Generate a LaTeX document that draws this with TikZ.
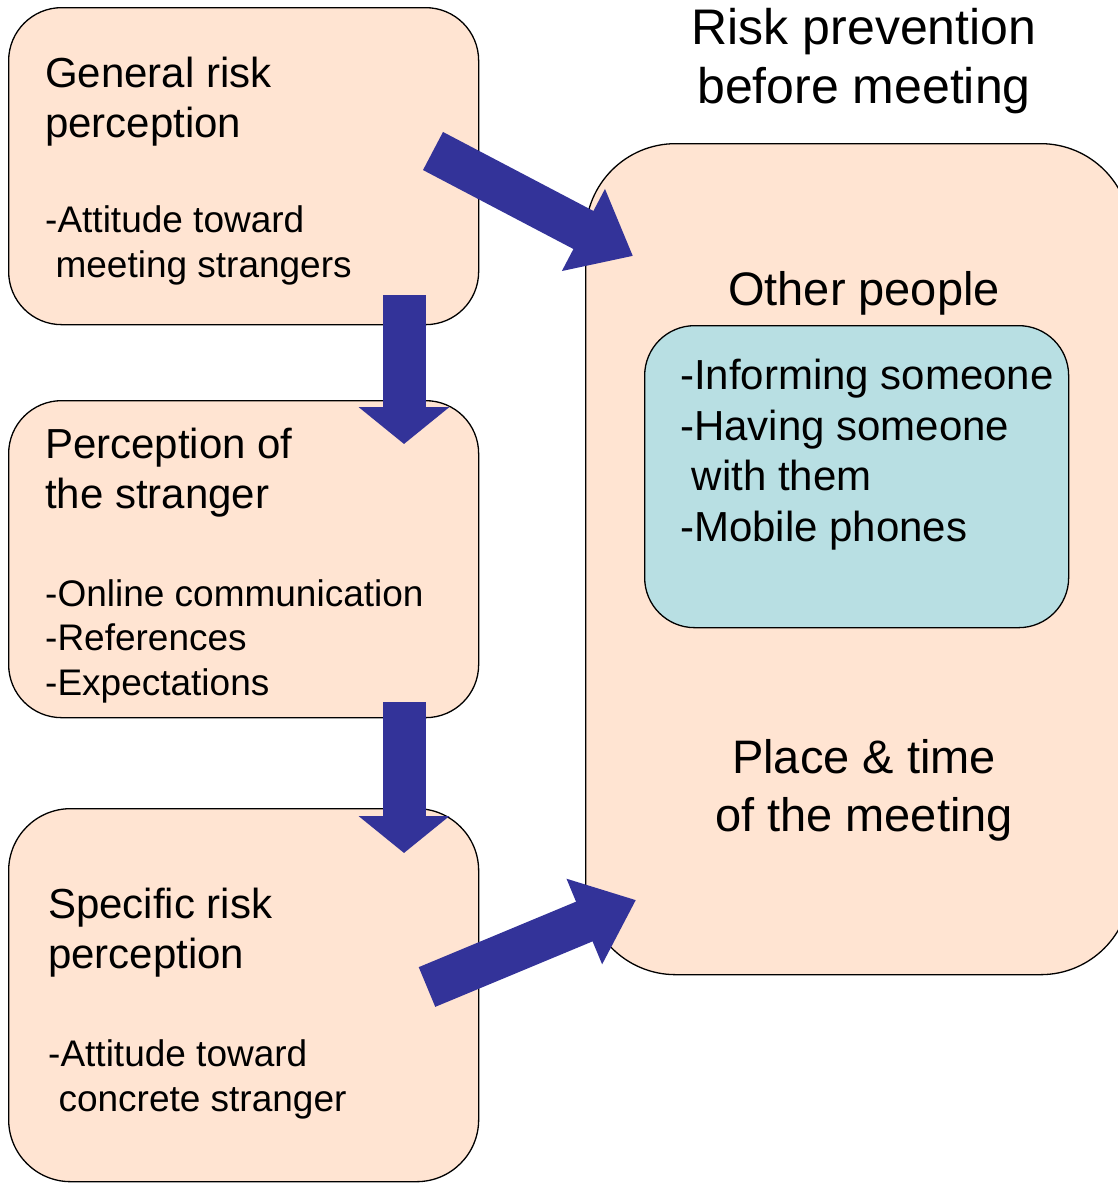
\documentclass[tikz,border=0pt]{standalone}
\usepackage{fontspec}
\setmainfont{Liberation Sans}
\usetikzlibrary{arrows.meta}

\definecolor{boxpeach}{RGB}{255,228,210}
\definecolor{boxteal}{RGB}{184,223,227}
\definecolor{arrowblue}{RGB}{51,51,153}

\newcommand{\titlefont}{\fontsize{50}{59}\selectfont}
\newcommand{\sidefont}{\fontsize{47}{58}\selectfont}
\newcommand{\headfont}{\fontsize{42}{50}\selectfont}
\newcommand{\listfont}{\fontsize{42}{50.5}\selectfont}
\newcommand{\itemfont}{\fontsize{37}{44.5}\selectfont}

\tikzset{
  rbox/.style={draw=black, line width=1.3pt, fill=boxpeach, rounded corners=#1,
    anchor=north west, inner sep=0pt},
  tbox/.style={rbox=#1, fill=boxteal},
  txt/.style={inner sep=0pt, align=left, anchor=base west},
  blk/.style={draw=arrowblue, line width=43pt,
    -{Triangle[width=89pt,length=#1]}}
}

\begin{document}
\begin{tikzpicture}[x=1pt,y=-1pt]
  \useasboundingbox (0,0) rectangle (1117,1183);

  %% boxes on the left
  \node[rbox=53pt, minimum width=470pt, minimum height=317pt] (general) at (8,7) {};
  \node[rbox=53pt, minimum width=470pt, minimum height=317pt] (stranger) at (8,400) {};
  \node[rbox=62pt, minimum width=470pt, minimum height=373pt] (specific) at (8,808) {};

  %% box on the right
  \node[rbox=90pt, minimum width=545pt, minimum height=831pt] (prevent) at (585,143) {};
  \node[tbox=50pt, minimum width=424pt, minimum height=302pt] (people) at (644,325) {};

  %% texts (placed at the baseline of their last line)
  \node[txt, font=\headfont] (generalhead) at (45,137) {General risk\\perception};
  \node[txt, font=\itemfont] (generalitem) at (45,277) {-Attitude toward\\\hspace*{.28em}meeting strangers};

  \node[txt, font=\headfont] (strangerhead) at (45,508) {Perception of\\the stranger};
  \node[txt, font=\itemfont] (strangeritem) at (45,695) {-Online communication\\-References\\-Expectations};

  \node[txt, font=\headfont] (specifichead) at (48,968) {Specific risk\\perception};
  \node[txt, font=\itemfont] (specificitem) at (48,1111) {-Attitude toward\\\hspace*{.28em}concrete stranger};

  \node[txt, align=center, anchor=base, font=\titlefont] (title) at (864,103) {Risk prevention\\before meeting};
  \node[txt, anchor=base, font=\sidefont] (otherhead) at (864,305) {Other people};
  \node[txt, font=\listfont] (peopleitem) at (680,541) {-Informing someone\\-Having someone\\\hspace*{.28em}with them\\-Mobile phones};
  \node[txt, align=center, anchor=base, font=\sidefont] (placehead) at (864,831) {Place \& time\\of the meeting};

  %% block arrows
  \coordinate (d1s) at (404,295);
  \coordinate (d1e) at (404,444);
  \coordinate (d2s) at (404,702);
  \coordinate (d2e) at (404,853);
  \coordinate (u1s) at (433,151);
  \coordinate (u1e) at (633,256);
  \coordinate (u2s) at (427,987);
  \coordinate (u2e) at (636,900);

  \draw[blk=37pt] (d1s) -- (d1e);
  \draw[blk=37pt] (d2s) -- (d2e);
  \draw[blk=56pt] (u1s) -- (u1e);
  \draw[blk=56pt] (u2s) -- (u2e);

\end{tikzpicture}
\end{document}
